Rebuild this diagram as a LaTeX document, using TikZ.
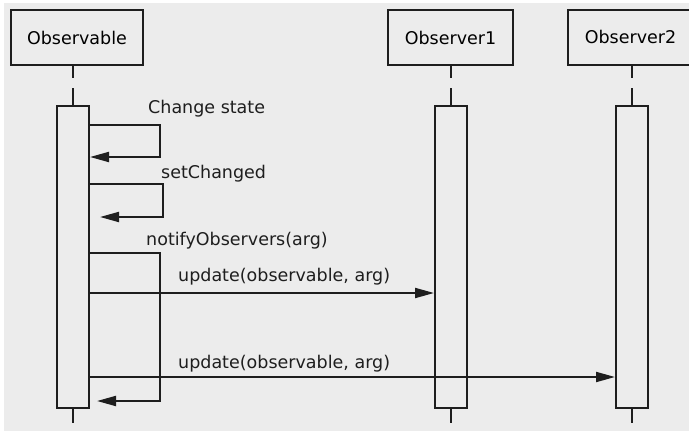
\documentclass[tikz,border=0pt]{standalone}
\usepackage{fontspec}
\setmainfont{DejaVu Sans}
\usetikzlibrary{arrows.meta}

\definecolor{panelgray}{HTML}{ECECEC}
\definecolor{inkgray}{HTML}{1E1E1E}

\begin{document}
\begin{tikzpicture}[
  x=1pt, y=-1pt,
  font=\fontsize{17.5}{20}\selectfont,
  lifehead/.style={
    draw=inkgray, fill=panelgray, line width=2pt,
    minimum height=55pt, inner sep=0pt
  },
  actbar/.style={
    draw=inkgray, fill=panelgray, line width=2pt,
    minimum width=32pt, minimum height=302pt, inner sep=0pt
  },
  lifeline/.style={draw=inkgray, line width=2pt},
  msg/.style={
    draw=inkgray, line width=2pt,
    -{Triangle[length=19pt, width=10pt]}
  },
  msglabel/.style={anchor=base west, inner sep=0pt, text=inkgray},
]

% Frame: white margin, grey panel
\useasboundingbox (0,0) rectangle (689,431);
\fill[white] (0,0) rectangle (689,431);
\fill[panelgray] (4,3) rectangle (689,431);
\clip (0,0) rectangle (689,431);

% Lifeline heads
\node[lifehead, minimum width=132pt] at (77, 37.5) (obsv) {Observable};
\node[lifehead, minimum width=125pt] at (450.5, 37.5) (obs1) {Observer1};
\node[lifehead, minimum width=125pt] at (630.5, 37.5) (obs2) {\raisebox{2pt}{Observer2}};

% Activation bars
\node[actbar] at (73, 257) (actv) {};
\node[actbar] at (451, 257) (act1) {};
\node[actbar] at (632, 257) (act2) {};

% Dashed lifelines above, short tails below
\foreach \bar/\head in {actv/obsv, act1/obs1, act2/obs2} {
  \draw[lifeline, dash pattern=on 12pt off 10pt on 40pt]
    (\bar.north |- \head.south) -- (\bar.north);
  \draw[lifeline] (\bar.south) -- ++(0, 14);
}

% Self calls on the Observable
\draw[msg] (actv.east |- 0,125) -- (160,125) |- (actv.east |- 0,157);
\draw[msg, shorten >=10pt] (actv.east |- 0,184) -- (163,184) |- (actv.east |- 0,217);
\draw[msg, shorten >=7pt] (actv.east |- 0,253) -- (160,253) |- (actv.east |- 0,401);

\node[msglabel] at (148, 113) (lblstate) {Change state};
\node[msglabel] at (161, 178) (lblchanged) {setChanged};
\node[msglabel] at (146, 245) (lblnotify) {notifyObservers(arg)};

% Updates sent to each observer
\draw[msg] (actv.east |- 0,293) -- (act1.west |- 0,293);
\draw[msg] (actv.east |- 0,377) -- (act2.west |- 0,377);

\node[msglabel] at (178, 281) (lblupd1) {update(observable, arg)};
\node[msglabel] at (178, 368) (lblupd2) {update(observable, arg)};

\end{tikzpicture}
\end{document}
